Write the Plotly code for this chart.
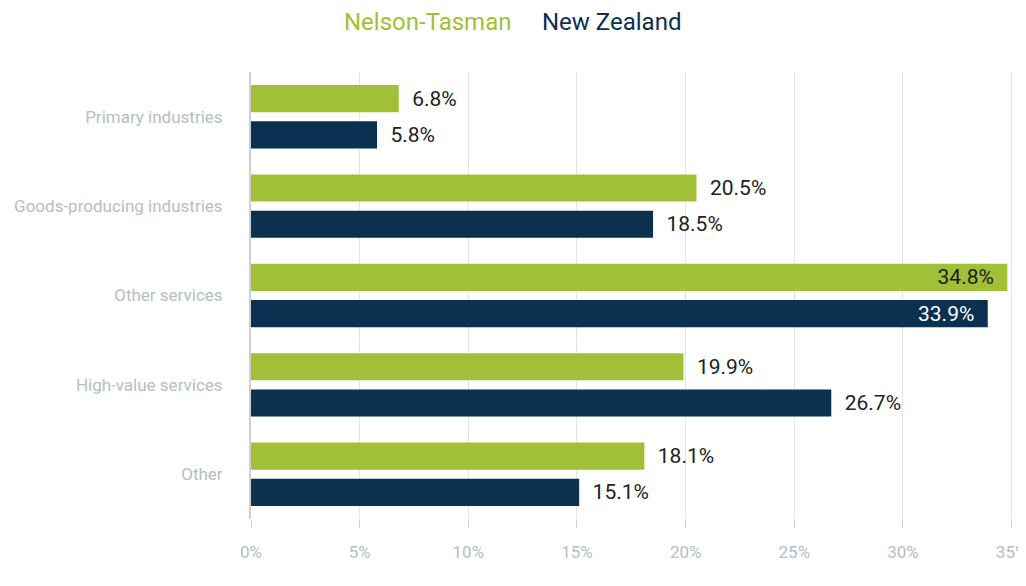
import plotly.graph_objects as go

# === Data ===
categories = ["Primary industries", "Goods-producing industries", "Other services",
              "High-value services", "Other"]
nelson_tasman = [6.8, 20.5, 34.8, 19.9, 18.1]
new_zealand = [5.8, 18.5, 33.9, 26.7, 15.1]
series_names = ["Nelson-Tasman", "New Zealand"]
x_ticks = [0, 5, 10, 15, 20, 25, 30, 35]

GREEN = "#a1c037"
NAVY = "#0b3050"
FONT = "Roboto"
NB = "\u00a0"

# page body has an 8px margin, so the figure is drawn 8px smaller
W, H = 1018, 578
L, R, T, B = 243, 10, 64, 67
PW, PH = W - L - R, H - T - B


def label_setup(values, inside_color):
    # the longest bars carry their labels inside, the rest sit outside
    pos, txt, col = [], [], []
    for v in values:
        if v > 30:
            pos.append("inside")
            txt.append(f"{v:.1f}%" + NB * 2)
            col.append(inside_color)
        else:
            pos.append("outside")
            txt.append(NB * 2 + f"{v:.1f}%")
            col.append("#222222")
    return pos, txt, col


fig = go.Figure()
for name, vals, color, inside_col in [
    (series_names[0], nelson_tasman, GREEN, "#1a1a1a"),
    (series_names[1], new_zealand, NAVY, "#ffffff"),
]:
    pos, txt, col = label_setup(vals, inside_col)
    fig.add_trace(go.Bar(
        y=categories, x=vals, name=name, orientation="h",
        marker=dict(color=color, line=dict(width=0)),
        text=txt, textposition=pos, insidetextanchor="end", constraintext="none",
        textfont=dict(family=FONT, size=21, color=col),
        cliponaxis=False, showlegend=False,
    ))

# legend drawn as coloured text at the top (pixel centres -> paper coords)
for name, color, px in [(series_names[0], GREEN, 419), (series_names[1], NAVY, 603)]:
    fig.add_annotation(text=name, x=(px - L) / PW, y=(H - B - 14) / PH,
                       xref="paper", yref="paper", xanchor="center", yanchor="middle",
                       showarrow=False, font=dict(family=FONT, size=24, color=color))

fig.update_layout(
    width=W, height=H,
    margin=dict(l=L, r=R, t=T, b=B, autoexpand=False),
    plot_bgcolor="white", paper_bgcolor="white",
    barmode="group", bargap=0.19, bargroupgap=0.25,
    font=dict(family=FONT),
    xaxis=dict(range=[0, 35.2], tickvals=x_ticks, ticktext=[f"{t}%" for t in x_ticks],
               showgrid=True, gridcolor="#e4e4e4", gridwidth=1, zeroline=False,
               ticks="outside", ticklen=8, tickcolor="#d0d0d0",
               tickfont=dict(family=FONT, size=17, color="#b4bec6"),
               ticklabelstandoff=10, ticklabeloverflow="allow", showline=False),
    yaxis=dict(autorange="reversed", showline=True, linecolor="#cfcfcf", linewidth=2,
               ticks="", tickfont=dict(family=FONT, size=17, color="#b4bec6"),
               ticklabelstandoff=23, showgrid=False),
)

fig.write_html("out.html")
